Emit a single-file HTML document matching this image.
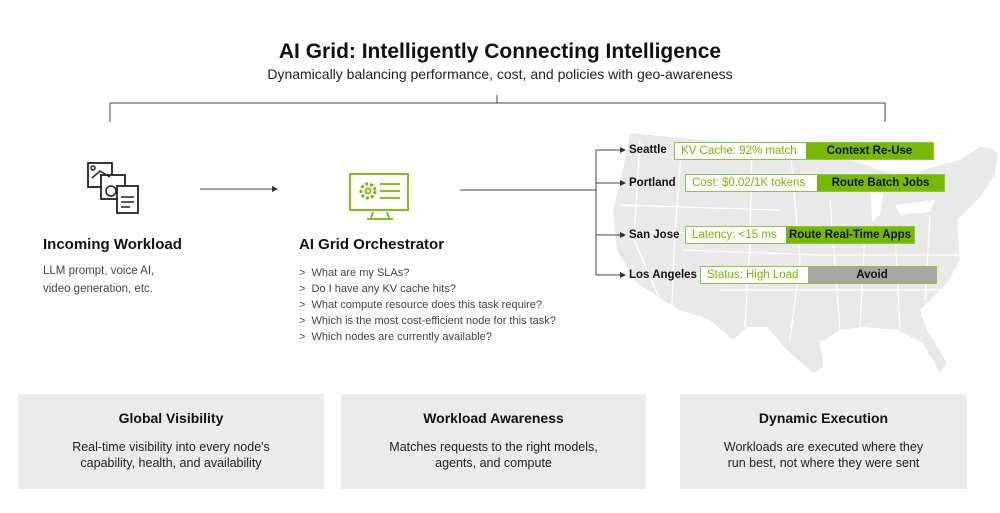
<!DOCTYPE html>
<html><head><meta charset="utf-8"><style>
*{margin:0;padding:0;box-sizing:border-box}
body{width:1000px;height:513px;background:#fff;font-family:"Liberation Sans",sans-serif;color:#111;position:relative;overflow:hidden}
.a{position:absolute}
.t{font-weight:bold}
.box{position:absolute;display:flex;height:18px;border:1px solid #8cc83c;font-size:11.5px;line-height:16px}
.box .l{background:#fff;color:#76b900;padding-left:6px;height:16px}
.box .r{background:#76b900;color:#111;font-weight:bold;text-align:center;height:16px;flex:1}
.city{position:absolute;font-size:11.5px;font-weight:bold;line-height:18px}
.card{position:absolute;top:394px;height:95px;background:#ebebeb;text-align:center}
.card h3{font-size:14px;margin-top:16px}
.card p{font-size:12.5px;line-height:16px;margin-top:13px;color:#222}
.q{font-size:11px;color:#444;line-height:16px}
</style></head><body>
<div class="a t" style="left:0;width:1000px;top:40px;text-align:center;font-size:21px">AI Grid: Intelligently Connecting Intelligence</div>
<div class="a" style="left:0;width:1000px;top:66px;text-align:center;font-size:14px;color:#222">Dynamically balancing performance, cost, and policies with geo-awareness</div>
<svg class="a" style="left:0;top:0" width="1000" height="513">
<!-- map -->
<path d="M630 133 L700 140 L780 143 L840 147 L850 160 L880 170 L905 178 L930 168 L960 160 L980 147 L990 148 L998 153 L995 175 L980 197 L957 220 L960 260 L947 283 L920 310 L927 330 L947 363 L940 373 L923 343 L897 330 L863 327 L840 330 L820 343 L823 367 L813 373 L787 350 L767 327 L747 327 L733 340 L710 320 L680 310 L663 300 L637 283 L617 250 L613 210 L623 170 Z" fill="#e9e9e9"/>
<path d="M870 175 L885 180 L880 215 L872 222 Z M895 205 L935 200 L930 212 L900 215 Z" fill="#fff"/>
<g stroke="#fff" stroke-width="1.2" fill="none">
<path d="M640 140 L634 240 L660 300 M682 142 L675 230 L672 305 M752 143 L750 240 L745 327 M620 205 L780 210 M640 232 L880 236 M682 250 L820 255 M720 290 L940 290 M790 145 L800 260 L790 340 M830 200 L840 330 M865 230 L860 328 M895 230 L900 330 M930 215 L925 300 M810 255 L960 255"/>
</g>
<g stroke="#444" stroke-width="1" fill="none">
<path d="M110 122 V103 H885 V122 M497 103 V95"/>
<path d="M200 189 H272"/>
<path d="M460 190 H596 M596 150 V275 M596 150 H620 M596 183 H620 M596 235 H620 M596 275 H620"/>
</g>
<g fill="#333">
<path d="M272 186 L278 189 L272 192Z"/>
<path d="M620 147 L626 150 L620 153Z M620 180 L626 183 L620 186Z M620 232 L626 235 L620 238Z M620 272 L626 275 L620 278Z"/>
</g>
<!-- workload icon -->
<g stroke="#222" stroke-width="1.8" fill="#fff">
<rect x="88" y="163" width="24" height="24"/>
<rect x="101" y="175" width="24" height="24"/>
<rect x="117" y="186" width="21" height="27"/>
</g>
<g stroke="#222" stroke-width="1.5" fill="none">
<circle cx="93" cy="168" r="2"/><path d="M92 178 L100 171 L110 177"/>
<circle cx="111" cy="191" r="5"/>
<path d="M121 197 H134 M121 202 H134 M121 207 H130"/>
</g>
<!-- orchestrator icon -->
<g stroke="#76b900" stroke-width="1.8" fill="none">
<rect x="350" y="174" width="58" height="36"/>
<path d="M373 212 L371 218 M387 212 L389 218 M367 219 H393"/>
<circle cx="368" cy="191" r="7" stroke-dasharray="3 2" stroke-width="3"/>
<circle cx="368" cy="191" r="2.5"/>
<path d="M380 184 H400 M380 191 H400 M380 198 H400"/>
</g>
</svg>
<div class="a t" style="left:43px;top:236px;font-size:15px">Incoming Workload</div>
<div class="a" style="left:43px;top:262px;font-size:11.5px;color:#444;line-height:18px">LLM prompt, voice AI,<br>video generation, etc.</div>
<div class="a t" style="left:299px;top:236px;font-size:15px">AI Grid Orchestrator</div>
<div class="a q" style="left:299px;top:265px">&gt;&nbsp; What are my SLAs?<br>&gt;&nbsp; Do I have any KV cache hits?<br>&gt;&nbsp; What compute resource does this task require?<br>&gt;&nbsp; Which is the most cost-efficient node for this task?<br>&gt;&nbsp; Which nodes are currently available?</div>

<div class="city" style="left:629px;top:141px">Seattle</div>
<div class="box" style="left:674px;top:142px;width:260px"><div class="l" style="width:131px">KV Cache: 92% match</div><div class="r">Context Re-Use</div></div>
<div class="city" style="left:629px;top:174px">Portland</div>
<div class="box" style="left:685px;top:174px;width:260px"><div class="l" style="width:131px">Cost: $0.02/1K tokens</div><div class="r">Route Batch Jobs</div></div>
<div class="city" style="left:629px;top:226px">San Jose</div>
<div class="box" style="left:685px;top:226px;width:230px"><div class="l" style="width:100px">Latency: &lt;15 ms</div><div class="r">Route Real-Time Apps</div></div>
<div class="city" style="left:629px;top:266px">Los Angeles</div>
<div class="box" style="left:700px;top:266px;width:237px"><div class="l" style="width:107px">Status: High Load</div><div class="r" style="background:#a6a6a6">Avoid</div></div>

<div class="card" style="left:18px;width:306px"><h3>Global Visibility</h3><p>Real-time visibility into every node's<br>capability, health, and availability</p></div>
<div class="card" style="left:341px;width:305px"><h3>Workload Awareness</h3><p>Matches requests to the right models,<br>agents, and compute</p></div>
<div class="card" style="left:680px;width:287px"><h3>Dynamic Execution</h3><p>Workloads are executed where they<br>run best, not where they were sent</p></div>
</body></html>
